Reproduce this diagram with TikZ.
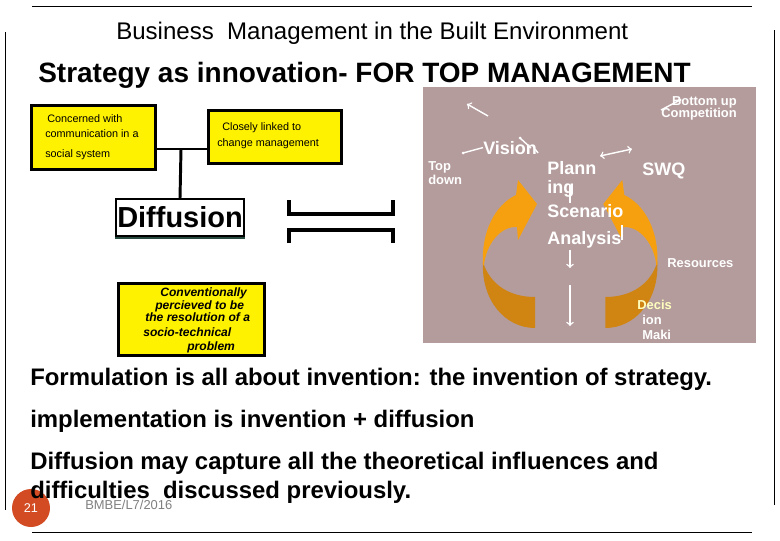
\documentclass[tikz,border=0pt]{standalone}
\usepackage{fontspec}
\setmainfont{Liberation Sans}
\definecolor{mauve}{RGB}{180,156,156}
\definecolor{lightorange}{RGB}{247,160,15}
\definecolor{darkorange}{RGB}{208,132,18}
\definecolor{slidered}{RGB}{210,75,35}
\definecolor{shadowgreen}{RGB}{40,75,65}
\definecolor{paleyellow}{RGB}{255,255,190}
\newcommand{\pxu}{0.025cm}

\begin{document}
\begin{tikzpicture}[x=0.025cm, y=-0.025cm, every node/.style={inner sep=0pt},
		ybox/.style = {draw, line width=2.1pt, fill=yellow},
		boxtext/.style = {anchor=base west, font=\fontsize{7.7}{9}\selectfont},
		convtext/.style = {anchor=base west, font=\bfseries\itshape\fontsize{8.6}{10}\selectfont},
		bodytext/.style = {anchor=base west, font=\bfseries\fontsize{17}{20}\selectfont},
		wbig/.style = {anchor=base west, text=white, font=\bfseries\fontsize{12.8}{14}\selectfont},
		wsmall/.style = {anchor=base west, text=white, font=\bfseries\fontsize{9.2}{11}\selectfont},
		wline/.style = {draw=white, line width=1pt}]
	\useasboundingbox (0,0) rectangle (780,540);
	\fill[white] (0,0) rectangle (780,540);
	% slide frame
	\draw[line width=0.7pt] (32,6) -- (752,6);
	\draw[line width=0.7pt] (32,532) -- (752,532);
	\draw[line width=0.7pt] (5,32) -- (5,510);
	\draw[line width=0.7pt] (774,30) -- (774,505);
	\node (course) at (116,39) [anchor=base west, font=\fontsize{17.1}{20}\selectfont] {Business\ \ Management in the Built Environment};
	\node (strat) at (38,82) [anchor=base west, font=\bfseries\fontsize{19.9}{24}\selectfont] {Strategy as innovation- FOR TOP MANAGEMENT};

	% picture on the right
	\fill[mauve] (423,87) rectangle (756,343);
	\foreach \sx/\sc in {0/1, 28.5/-1}{
		\begin{scope}[xshift=\sx cm, xscale=\sc]
			\fill[darkorange] (483,262) .. controls (481,300) and (505,328) .. (535,328) -- (535,297) .. controls (510,297) and (490,285) .. (483,262) -- cycle;
			\fill[lightorange] (483,265) .. controls (481,232) and (495,205) .. (516,195) -- (518,180) -- (537,204) -- (518,240) -- (517,227) .. controls (500,226) and (486,245) .. (484,265) -- cycle;
		\end{scope}
	}
	\node (bup) at (737,105) [wsmall, anchor=base east] {Bottom up};
	\node (comp) at (737,117) [wsmall, anchor=base east] {Competition};
	\node (vision) at (483,154) [wbig] {Vision};
	\node (top) at (428,170) [wsmall] {Top};
	\node (down) at (428,184) [wsmall] {down};
	\node (plan) at (547,174) [wbig] {Plann};
	\node (ing) at (547,193) [wbig] {ing};
	\node (scen) at (547,217) [wbig] {Scenario};
	\node (anal) at (547,244) [wbig] {Analysis};
	\node (swq) at (642,175) [wbig] {SWQ};
	\node (res) at (667,267) [wsmall] {Resources};
	\node (decis) at (637,309) [wsmall, text=paleyellow] {Decis};
	\node (ion) at (642,324) [wsmall] {ion};
	\node (maki) at (642,339) [wsmall] {Maki};
	\coordinate (v1) at (467,104);
	\coordinate (v2) at (488,116);
	\draw[wline, <-] (v1) -- (v2);
	\fill[white] (463,153) circle (1.5);
	\draw[wline] (463,153) -- (vision.west);
	\fill[white] (520,138) circle (1.5);
	\draw[wline] (520,138) -- (531,148);
	\draw[wline] (535,149) -- (538,153);
	\draw[wline, <->] (600,156) -- (632,149);
	\fill[white] (680,100) circle (1.5);
	\draw[wline] (661,110) -- (680,100);
	\draw[wline] (570,185) -- (570,203);
	\draw[wline, ->] (570,250) -- (570,268);
	\draw[wline, ->] (570,285) -- (570,326);
	\draw[wline] (622,225) -- (622,240);

	% boxes on the left
	\node (concern) at (93.5,137.5) [ybox, minimum width=124*\pxu, minimum height=64*\pxu] {};
	\node (linked) at (275,137) [ybox, minimum width=133*\pxu, minimum height=53*\pxu] {};
	\node (diff) at (180,217.5) [draw, line width=0.8pt, fill=white, minimum width=128*\pxu, minimum height=37*\pxu, font=\bfseries\fontsize{20.6}{24}\selectfont] {Diffusion};
	\draw[shadowgreen, line width=2pt] ([yshift=-1pt]diff.south west) -- ([yshift=-1pt]diff.south east);
	\coordinate (join) at (181,149);
	\draw[line width=2.1pt] (concern.east |- join) -- (linked.west |- join);
	\draw[line width=2.1pt] (join) -- (diff.north);
	\node (c1) at (47,122) [boxtext] {Concerned with};
	\node (c2) at (45,137) [boxtext] {communication in a};
	\node (c3) at (45,157) [boxtext] {social system};
	\node (l1) at (222,130) [boxtext] {Closely linked to};
	\node (l2) at (217,146) [boxtext] {change management};
	% the two brackets
	\draw[line width=2.8pt] (289,200) -- (289,214) -- (393,214) -- (393,200);
	\draw[line width=2.8pt] (289,243) -- (289,230) -- (393,230) -- (393,243);
	\node (conv) at (191.5,319.5) [ybox, minimum width=146*\pxu, minimum height=72*\pxu] {};
	\node (v1t) at (160,296) [convtext] {Conventionally};
	\node (v2t) at (155,309) [convtext] {percieved to be};
	\node (v3t) at (145,321) [convtext] {the resolution of a};
	\node (v4t) at (143,336) [convtext] {socio-technical};
	\node (v5t) at (187,350) [convtext] {problem};

	% footer and body text
	\fill[slidered] (31,508) circle (19);
	\node (num) at (31,508) [text=white, font=\fontsize{9}{11}\selectfont] {21};
	\node (code) at (85,509) [anchor=base west, text=gray, font=\fontsize{9.2}{11}\selectfont] {BMBE/L7/2016};
	\node (form) at (30,385) [bodytext] {Formulation is all about invention: the invention of strategy.};
	\node (impl) at (30,427) [bodytext] {implementation is invention + diffusion};
	\node (cap1) at (30,469) [bodytext] {Diffusion may capture all the theoretical influences and};
	\node (cap2) at (30,498) [bodytext] {difficulties\ \ discussed previously.};
\end{tikzpicture}
\end{document}
